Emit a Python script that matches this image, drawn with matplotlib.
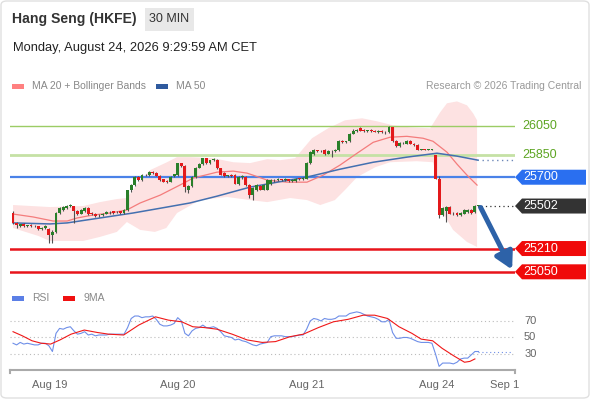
import numpy as np
import matplotlib.pyplot as plt
from matplotlib.patches import Polygon, Rectangle, FancyBboxPatch

plt.rcParams['font.family'] = ['Liberation Sans', 'DejaVu Sans']

# 30 min candles, Aug 19 .. Aug 24
opens = [25455, 25385, 25365, 25378, 25365, 25370, 25368, 25362, 25345, 25350,
         25345, 25300, 25325, 25455, 25478, 25490, 25505, 25500, 25470, 25450,
         25468, 25490, 25455, 25450, 25438, 25440, 25450, 25458, 25465, 25458,
         25465, 25455, 25475, 25610, 25645, 25700, 25680, 25712, 25715, 25735,
         25730, 25710, 25685, 25672, 25670, 25705, 25715, 25795, 25780, 25612,
         25640, 25700, 25765, 25790, 25830, 25795, 25815, 25820, 25760, 25730,
         25708, 25712, 25715, 25655, 25700, 25700, 25645, 25580, 25610, 25640,
         25615, 25615, 25650, 25680, 25678, 25685, 25680, 25686, 25675, 25675,
         25690, 25688, 25690, 25797, 25860, 25885, 25878, 25885, 25862, 25880,
         25878, 25885, 25950, 25945, 25946, 26000, 26020, 26040, 26020, 26018,
         26022, 26016, 26014, 26018, 26012, 26008, 26042, 25950, 25915, 25935,
         25930, 25950, 25930, 25920, 25890, 25892, 25888, 25890, 25850, 25690,
         25440, 25470, 25495, 25450, 25455, 25440, 25450, 25460, 25475, 25460,
         25502]
highs = [25465, 25390, 25380, 25382, 25375, 25376, 25372, 25366, 25355, 25370,
         25350, 25335, 25460, 25495, 25500, 25512, 25518, 25505, 25478, 25480,
         25495, 25495, 25462, 25455, 25448, 25455, 25465, 25466, 25470, 25466,
         25470, 25480, 25615, 25650, 25705, 25710, 25720, 25722, 25740, 25742,
         25735, 25715, 25690, 25680, 25705, 25725, 25800, 25800, 25785, 25645,
         25705, 25770, 25795, 25835, 25835, 25820, 25830, 25825, 25765, 25735,
         25718, 25720, 25720, 25705, 25712, 25705, 25650, 25630, 25650, 25648,
         25650, 25690, 25688, 25690, 25692, 25690, 25692, 25690, 25688, 25695,
         25698, 25700, 25805, 25880, 25892, 25890, 25888, 25892, 25885, 25888,
         25892, 25955, 25958, 25952, 26005, 26028, 26030, 26048, 26028, 26026,
         26030, 26025, 26022, 26024, 26020, 26052, 26048, 25955, 25940, 25945,
         25955, 25955, 25938, 25925, 25896, 25896, 25895, 25896, 25855, 25710,
         25495, 25500, 25500, 25458, 25460, 25458, 25480, 25480, 25480, 25510,
         25512]
lows = [25380, 25350, 25355, 25360, 25358, 25360, 25355, 25340, 25338, 25345,
        25250, 25245, 25320, 25445, 25470, 25485, 25498, 25385, 25440, 25445,
        25462, 25440, 25438, 25428, 25430, 25435, 25445, 25450, 25448, 25452,
        25450, 25450, 25470, 25600, 25640, 25672, 25675, 25705, 25710, 25722,
        25705, 25675, 25665, 25662, 25665, 25700, 25710, 25770, 25600, 25595,
        25635, 25695, 25760, 25785, 25790, 25790, 25810, 25755, 25712, 25700,
        25700, 25702, 25650, 25648, 25690, 25640, 25555, 25545, 25605, 25610,
        25610, 25610, 25645, 25670, 25672, 25672, 25675, 25668, 25670, 25670,
        25682, 25684, 25685, 25790, 25855, 25872, 25870, 25855, 25858, 25840,
        25872, 25880, 25938, 25935, 25940, 25995, 26012, 26015, 26012, 26010,
        26012, 26008, 26005, 26006, 26000, 26002, 25945, 25905, 25910, 25925,
        25925, 25925, 25915, 25885, 25884, 25885, 25884, 25886, 25685, 25420,
        25435, 25390, 25445, 25438, 25432, 25436, 25445, 25455, 25450, 25455,
        25495]
closes = [25385, 25370, 25378, 25365, 25370, 25368, 25362, 25345, 25350, 25368,
          25300, 25325, 25455, 25490, 25495, 25505, 25508, 25465, 25450, 25475,
          25490, 25450, 25445, 25435, 25442, 25450, 25460, 25462, 25455, 25461,
          25455, 25475, 25610, 25645, 25700, 25680, 25715, 25716, 25735, 25730,
          25710, 25682, 25670, 25670, 25700, 25720, 25795, 25775, 25630, 25640,
          25700, 25765, 25790, 25830, 25795, 25815, 25822, 25760, 25718, 25705,
          25712, 25708, 25655, 25700, 25702, 25645, 25580, 25625, 25645, 25615,
          25645, 25680, 25680, 25678, 25685, 25680, 25686, 25675, 25682, 25690,
          25688, 25692, 25797, 25872, 25885, 25878, 25882, 25860, 25880, 25878,
          25885, 25950, 25945, 25946, 26000, 26020, 26025, 26020, 26018, 26022,
          26016, 26014, 26018, 26012, 26008, 26042, 25950, 25915, 25935, 25932,
          25950, 25930, 25920, 25890, 25892, 25888, 25890, 25893, 25690, 25440,
          25490, 25495, 25450, 25445, 25440, 25452, 25475, 25475, 25455, 25505,
          25502]

# moving averages / bands, read at candle positions
ma20_idx = [0, 5.6, 8.4, 11.2, 15.1, 17.9, 22.3, 27.1, 31.8, 35.5, 41.1, 46.6, 50.3, 57,
            61.5, 65.4, 71, 76.5, 82.1, 86.6, 91.3, 96.1, 100.6, 105.3, 110, 114.5,
            117.3, 121.2, 124, 126.8, 129.6]
ma20_val = [25447, 25427, 25413, 25399, 25399, 25420, 25440, 25454, 25475, 25523, 25577,
            25646, 25694, 25735, 25742, 25728, 25680, 25666, 25666, 25714, 25783, 25865,
            25940, 25975, 25981, 25968, 25947, 25872, 25790, 25714, 25646]
ma50_idx = [0, 10.3, 15.1, 24.3, 33.5, 43, 49.4, 57, 66.2, 75.4, 82.1, 91.3, 100.6, 110,
            118.4, 124, 129.9]
ma50_val = [25386, 25379, 25386, 25420, 25454, 25495, 25523, 25570, 25632, 25673, 25701,
            25755, 25803, 25838, 25865, 25845, 25817]
bb_up_idx = [0, 10.3, 19.6, 24.3, 29, 31.8, 33.5, 35.5, 38.3, 43, 45.8, 49.4, 55.9, 61.5,
             66.2, 71, 74.6, 78.8, 83.5, 88, 92.7, 97.5, 101.7, 106.1, 110.9, 116.5,
             119.3, 121.2, 124, 126.8, 128.5, 129.6]
bb_up_val = [25509, 25495, 25502, 25529, 25550, 25557, 25612, 25680, 25749, 25803, 25838,
             25838, 25831, 25803, 25797, 25824, 25817, 25831, 25968, 26036, 26091, 26105,
             26084, 26057, 26043, 26036, 26146, 26208, 26221, 26194, 26139, 26091]
bb_lo_idx = [0, 7, 10.3, 19.6, 24.3, 29, 31.8, 35.5, 39.6, 42.8, 45.8, 52.2, 59.8, 66.2,
             71, 77.4, 82.1, 85.8, 89.9, 92.7, 96.1, 101.2, 105.3, 112.8, 117.3, 118.7,
             120.1, 122.9, 126.8, 129.6]
bb_lo_val = [25351, 25297, 25262, 25262, 25290, 25324, 25392, 25338, 25324, 25351, 25454,
             25543, 25564, 25543, 25529, 25557, 25543, 25509, 25543, 25612, 25701, 25769,
             25803, 25810, 25803, 25680, 25454, 25338, 25255, 25221]

# RSI (one value per candle) and its 9 period MA
rsi = [43, 41, 44, 42, 43, 42, 41, 41, 43, 43, 40, 33, 55, 61, 60, 62, 63, 58, 54, 55,
       57, 53, 54, 52, 53, 53, 53, 54, 54, 54, 54, 54, 62, 73, 76, 76, 74, 75, 75, 76,
       72, 66, 64, 64, 65, 67, 74, 70, 55, 52, 58, 61, 62, 65, 62, 62, 63, 61, 57, 52,
       51, 50, 47, 48, 46, 45, 43, 41, 40, 42, 43, 44, 51, 52, 52, 52, 51, 51, 51, 52,
       53, 53, 60, 70, 73, 72, 70, 73, 72, 72, 73, 76, 76, 76, 79, 80, 81, 80, 78, 76,
       75, 74, 72, 69, 69, 72, 56, 49, 49, 50, 50, 49, 47, 45, 44, 44, 44, 43, 30, 15,
       19, 19, 19, 18, 20, 24, 25, 25, 29, 33, 33]
rsi_ma_idx = [0, 2.6, 5.3, 7.9, 10.5, 13.1, 16.2, 19.9, 23.6, 26.7, 30.9, 35.1, 39.8, 43.4,
              47.1, 50.2, 53.4, 57, 61.2, 65.4, 69.6, 73.3, 77.4, 81.1, 85.3, 89.5, 93.6,
              97.8, 101, 104.6, 107.8, 111.4, 114, 117.2, 119.8, 123, 126.1, 127.6, 129]
rsi_ma_val = [57, 52, 46, 43, 42, 47, 54, 59, 56, 54, 53, 65, 75, 71, 69, 63, 62, 60, 54,
              47, 44, 45, 51, 54, 62, 69, 72, 77, 77, 73, 63, 55, 48, 46, 37, 28, 20, 21, 24]

levels_green = [26050, 25850]
level_pivot = 25700
levels_support = [25210, 25050]
last_price = 25502
target = 25050

tick_pos = [10.3, 46.1, 82.1, 118.4, 137.4]
tick_labels = ['Aug 19', 'Aug 20', 'Aug 21', 'Aug 24', 'Sep 1']

W, H = 590, 400
fig = plt.figure(figsize=(W / 100, H / 100), dpi=100)
fig.patch.set_facecolor('white')

def fx(px):
    return px / W

def fy(py):
    return 1 - py / H

x = np.arange(len(closes))
xlim = (-0.85, 140.2)

ax = fig.add_axes([fx(10), fy(282), fx(505), 187 / H])
ax.set_xlim(*xlim)
ax.set_ylim(24980, 26265)
ax.axis('off')

# bollinger band
ax.fill(np.r_[bb_up_idx, bb_lo_idx[::-1]], np.r_[bb_up_val, bb_lo_val[::-1]],
        color='#fde2e2', lw=0, zorder=1)

# levels
ax.axhline(levels_green[0], color='#9ccc65', lw=1.0, zorder=2)
ax.axhline(levels_green[1], color='#c5e1a5', lw=2.0, zorder=2)
ax.axhline(level_pivot, color='#4a82e8', lw=1.6, zorder=2)
for lv in levels_support:
    ax.axhline(lv, color='#e8141b', lw=1.8, zorder=2)

ax.plot(ma20_idx, ma20_val, color='#f47c7c', lw=0.9, zorder=3)
ax.plot(ma50_idx, ma50_val, color='#4470b0', lw=1.1, zorder=3)
ax.plot([ma50_idx[-1] + 1, xlim[1]], [ma50_val[-1]] * 2, color='#6d88b8', lw=1.0,
        ls=(0, (1, 2.5)), zorder=3)

# candles
o = np.array(opens); c = np.array(closes)
up = c >= o
ax.vlines(x, lows, highs, color='#505050', lw=0.8, zorder=4)
body_h = np.maximum(np.abs(c - o), 5)
ax.bar(x, body_h, bottom=np.minimum(o, c), width=0.8,
       color=np.where(up, '#2a7f2a', '#e3191b'), zorder=5)

ax.plot([x[-1] + 0.8, xlim[1]], [last_price] * 2, color='#333333', lw=0.9,
        ls=(0, (1, 2.5)), zorder=3)

ax.annotate('', xy=(139.4, target + 15), xytext=(130.6, last_price - 10),
            arrowprops=dict(arrowstyle='-|>,head_width=0.55,head_length=1.0',
                            lw=3.6, color='#2d62a8', shrinkA=0, shrinkB=0), zorder=6)

# right hand labels
def level_y(price):
    return ax.transData.transform((0, price))[1]

for lv in levels_green:
    py = level_y(lv)
    fig.text(fx(540), py / H, f'{lv}', color='#5da523', fontsize=9,
             ha='center', va='center')

def tag(price, color):
    py = H - level_y(price)
    pts = [(515, py), (522, py - 7.5), (586, py - 7.5), (586, py + 7.5), (522, py + 7.5)]
    fig.patches.append(Polygon([(fx(a), fy(b)) for a, b in pts], closed=True,
                               transform=fig.transFigure, facecolor=color, edgecolor='none'))
    fig.text(fx(541), fy(py), f'{price}', color='white', fontsize=9,
             ha='center', va='center')

tag(level_pivot, '#2a6ff0')
tag(last_price, '#333333')
for lv in levels_support:
    tag(lv, '#f00a0a')

# RSI panel
rax = fig.add_axes([fx(10), fy(370), fx(505), 62 / H])
rax.set_xlim(*xlim)
rax.set_ylim(10.6, 85.7)
for s in ['top', 'right', 'left']:
    rax.spines[s].set_visible(False)
rax.spines['bottom'].set_color('#aaaaaa')
rax.spines['bottom'].set_linewidth(1.5)
rax.set_yticks([])
rax.set_xticks(tick_pos)
rax.set_xticklabels(tick_labels, color='#666666', fontsize=8)
rax.tick_params(axis='x', length=0, pad=7)
for xe in xlim:
    rax.plot([xe, xe], [10.6, 6.5], color='#aaaaaa', lw=1.5, clip_on=False)
for lv in [30, 50, 70]:
    rax.plot([xlim[0], 139.6], [lv, lv], color='#bbbbbb', lw=0.8, ls=(0, (1, 2.5)))
    rax.text(1.018, lv, str(lv), transform=rax.get_yaxis_transform(), color='#666666',
             fontsize=8, ha='left', va='center')
rax.plot(x, rsi, color='#6f8fe8', lw=0.8)
rax.plot([x[-1], 139.6], [rsi[-1]] * 2, color='#6f8fe8', lw=0.8, ls=(0, (1, 2.5)))
rax.plot(rsi_ma_idx, rsi_ma_val, color='#f01818', lw=0.8)

# header and legends
fig.patches.append(FancyBboxPatch((fx(1), fy(398)), fx(588), 397 / H,
                                  boxstyle='round,pad=0,rounding_size=0.01',
                                  transform=fig.transFigure, facecolor='none',
                                  edgecolor='#e0e0e0', lw=1))
fig.text(fx(12), fy(19), 'Hang Seng (HKFE)', fontsize=10.1, fontweight='bold',
         color='#333333', va='center')
fig.patches.append(Rectangle((fx(145), fy(31)), fx(49), 23 / H, transform=fig.transFigure,
                             facecolor='#e8e8e8', edgecolor='none'))
fig.text(fx(169.5), fy(19), '30 MIN', fontsize=9, color='#333333', ha='center', va='center')
fig.text(fx(13), fy(48), 'Monday, August 24, 2026 9:29:59 AM CET', fontsize=9.3,
         color='#222222', va='center')

def legend_item(x0, y0, color, label):
    fig.patches.append(Rectangle((fx(x0), fy(y0 + 2.5)), fx(12), 5 / H,
                                 transform=fig.transFigure, facecolor=color,
                                 edgecolor='none'))
    fig.text(fx(x0 + 20), fy(y0), label, fontsize=7.5, color='#888888', va='center')

legend_item(12, 86, '#ff8080', 'MA 20 + Bollinger Bands')
legend_item(156, 86, '#2f5a9e', 'MA 50')
fig.text(fx(581), fy(86), 'Research \u00a9 2026 Trading Central', fontsize=7.5,
         color='#999999', ha='right', va='center')
legend_item(12, 298, '#5b7fe6', 'RSI')
legend_item(63, 298, '#f01010', '9MA')

fig.savefig('out.png', dpi=100, facecolor='white')
